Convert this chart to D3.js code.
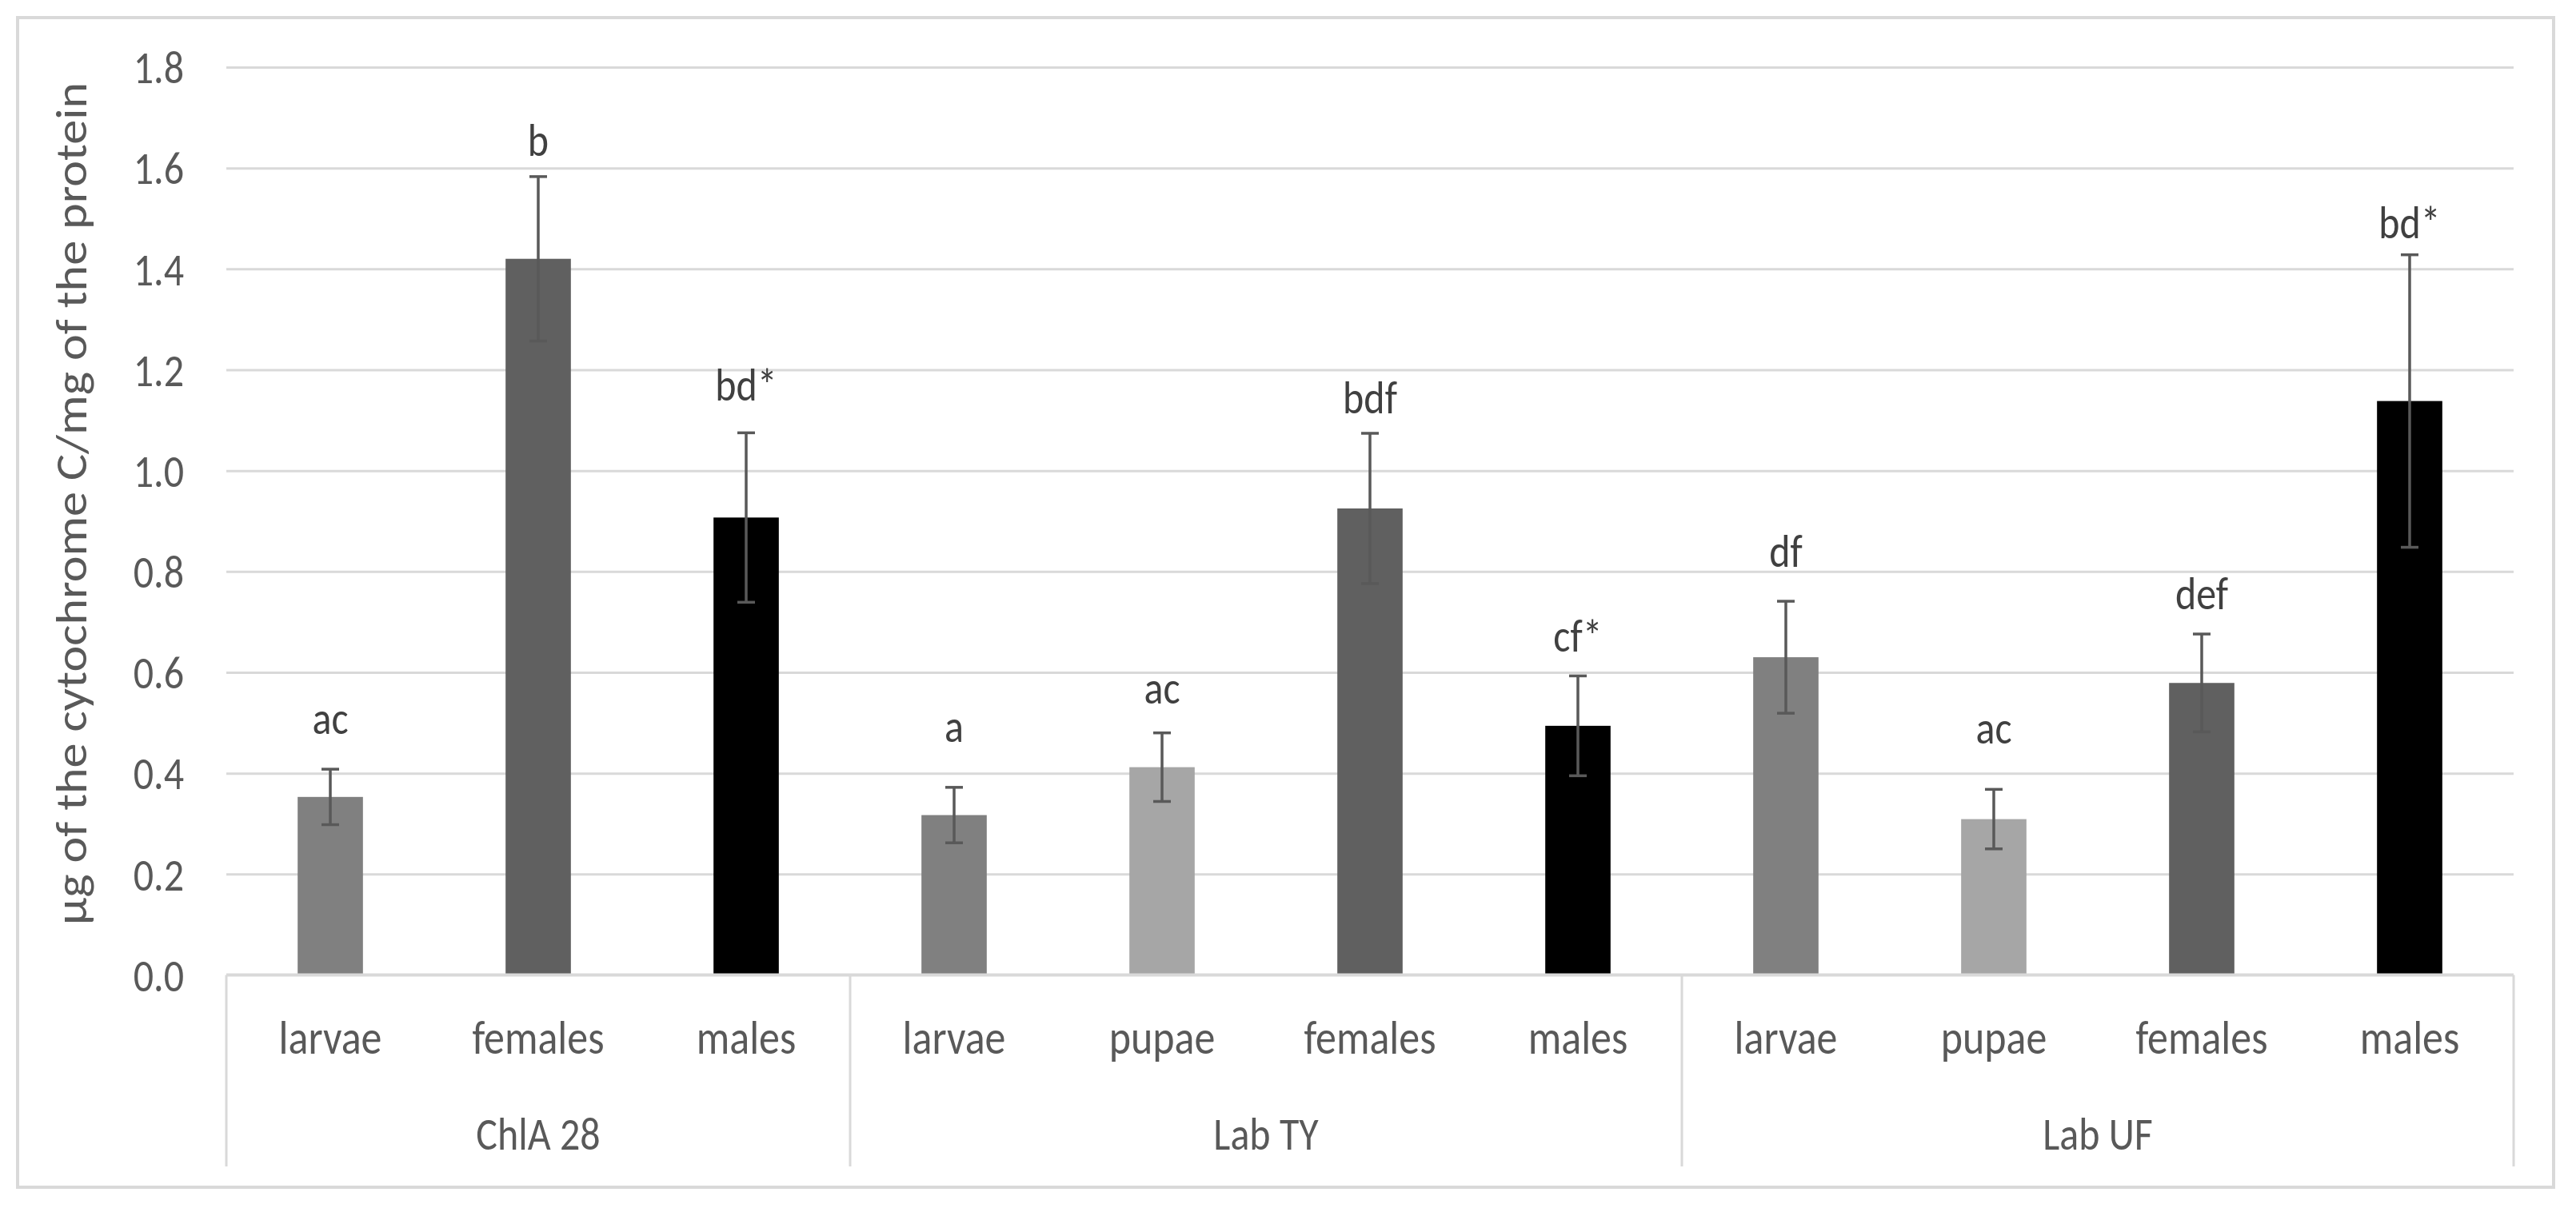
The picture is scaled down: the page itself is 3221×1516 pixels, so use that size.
<!DOCTYPE html>
<html>
<head>
<meta charset="utf-8">
<script src="https://cdn.jsdelivr.net/npm/d3@7"></script>
<style>
  html, body { margin: 0; padding: 0; background: #ffffff; }
  svg { display: block; }
  text { font-family: Carlito, Lato, "Open Sans", sans-serif; }
</style>
</head>
<body>
<svg id="chart" width="3221" height="1516"></svg>
<script>
// ---- data ----
const groups = ["ChlA 28", "Lab TY", "Lab UF"];
const groupSizes = [3, 4, 4];
const stages = ["larvae", "females", "males", "larvae", "pupae", "females", "males", "larvae", "pupae", "females", "males"];
const means = [0.353, 1.420, 0.907, 0.317, 0.412, 0.925, 0.494, 0.630, 0.309, 0.579, 1.138];
const errors = [0.055, 0.163, 0.168, 0.055, 0.068, 0.149, 0.099, 0.111, 0.059, 0.097, 0.290];
const letters = ["ac", "b", "bd*", "a", "ac", "bdf", "cf*", "df", "ac", "def", "bd*"];
// value (in axis units) at which each significance letter sits
const letterLevels = [0.478, 1.624, 1.139, 0.462, 0.538, 1.114, 0.641, 0.809, 0.459, 0.725, 1.460];
const yTicks = [0, 0.2, 0.4, 0.6, 0.8, 1.0, 1.2, 1.4, 1.6, 1.8];
const stageColors = { larvae: "#808080", pupae: "#a6a6a6", females: "#606060", males: "#000000" };
const yLabel = "\u00b5g of the cytochrome C/mg of the protein";

// ---- layout ----
const svg = d3.select("#chart");
const plot = { left: 283, right: 3143, top: 84, bottom: 1219.5 };
const gridColor = "#d9d9d9";
const textStretch = 1.15;

svg.append("rect")
  .attr("x", 22).attr("y", 22).attr("width", 3171).attr("height", 1463)
  .attr("fill", "#ffffff").attr("stroke", gridColor).attr("stroke-width", 4);

const x = d3.scaleBand().domain(d3.range(stages.length)).range([plot.left, plot.right]).padding(0);
const y = d3.scaleLinear().domain([0, 1.8]).range([plot.bottom, plot.top]);

// gridlines
const grid = svg.append("g").attr("transform", `translate(${plot.left},0)`)
  .call(d3.axisLeft(y).tickValues(yTicks.filter(d => d > 0)).tickSize(-(plot.right - plot.left)).tickFormat(""));
grid.select(".domain").remove();
grid.selectAll("line").attr("stroke", gridColor).attr("stroke-width", 3);

// y tick labels
const yAx = svg.append("g").attr("transform", `translate(${plot.left},0)`)
  .call(d3.axisLeft(y).tickValues(yTicks).tickSize(0).tickPadding(53).tickFormat(d3.format(".1f")));
yAx.select(".domain").remove();
yAx.selectAll("text")
  .attr("font-size", 50).attr("fill", "#595959")
  .attr("dy", null)
  .attr("y", 0)
  .attr("dominant-baseline", "central")
  .attr("transform", `scale(1,${textStretch})`)
  .style("font-family", "Carlito, Lato, 'Open Sans', sans-serif");

// y label
svg.append("text")
  .attr("transform", `translate(108,630) rotate(-90) scale(1,${textStretch})`)
  .attr("text-anchor", "middle")
  .attr("font-size", 48)
  .attr("textLength", 1054)
  .attr("lengthAdjust", "spacingAndGlyphs")
  .attr("fill", "#595959")
  .text(yLabel);

// bars
const barW = x.bandwidth() * 0.314;
const cx = i => x(i) + x.bandwidth() / 2;
svg.append("g").selectAll("rect").data(means).join("rect")
  .attr("x", (d, i) => cx(i) - barW / 2)
  .attr("y", d => y(d))
  .attr("width", barW)
  .attr("height", d => y(0) - y(d))
  .attr("fill", (d, i) => stageColors[stages[i]]);

// error bars
const eb = svg.append("g").attr("stroke", "#595959").attr("stroke-width", 3.5);
means.forEach((m, i) => {
  const hi = y(m + errors[i]), lo = y(m - errors[i]);
  eb.append("line").attr("x1", cx(i)).attr("x2", cx(i)).attr("y1", hi).attr("y2", lo);
  eb.append("line").attr("x1", cx(i) - 11).attr("x2", cx(i) + 11).attr("y1", hi).attr("y2", hi);
  eb.append("line").attr("x1", cx(i) - 11).attr("x2", cx(i) + 11).attr("y1", lo).attr("y2", lo);
});

// significance letters
svg.append("g").selectAll("text").data(letters).join("text")
  .attr("transform", (d, i) => `translate(${cx(i)},${y(letterLevels[i])}) scale(1,${textStretch})`)
  .attr("text-anchor", "middle")
  .attr("font-size", 50)
  .attr("fill", "#404040")
  .text(d => d);

// category axis box
const axisG = svg.append("g").attr("stroke", gridColor);
axisG.append("line").attr("x1", plot.left).attr("x2", plot.right)
  .attr("y1", plot.bottom).attr("y2", plot.bottom).attr("stroke-width", 4);
let start = 0;
const boundaries = [plot.left];
groupSizes.forEach(n => { start += n; boundaries.push(start < stages.length ? x(start) : plot.right); });
boundaries.forEach(bx => {
  axisG.append("line").attr("x1", bx).attr("x2", bx)
    .attr("y1", plot.bottom).attr("y2", 1459).attr("stroke-width", 3);
});

// stage labels
svg.append("g").selectAll("text").data(stages).join("text")
  .attr("transform", (d, i) => `translate(${cx(i)},1318) scale(1,${textStretch})`)
  .attr("text-anchor", "middle")
  .attr("font-size", 52)
  .attr("fill", "#595959")
  .text(d => d);

// group labels
svg.append("g").selectAll("text").data(groups).join("text")
  .attr("transform", (d, i) => `translate(${(boundaries[i] + boundaries[i + 1]) / 2},1438) scale(1,${textStretch})`)
  .attr("text-anchor", "middle")
  .attr("font-size", 50)
  .attr("fill", "#595959")
  .text(d => d);
</script>
</body>
</html>
